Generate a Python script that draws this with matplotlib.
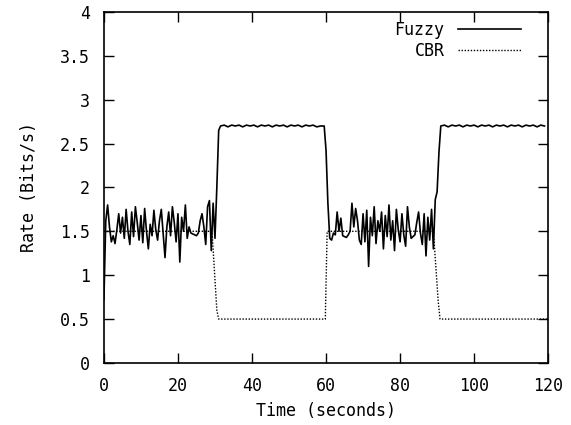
import numpy as np
import matplotlib
matplotlib.use("Agg")
import matplotlib.pyplot as plt

plt.rcParams['font.family'] = ['DejaVu Sans Mono']

# Fuzzy rate, noisy part 0..29.5 s (0.5 s steps)
fuzzy_a = [0.72, 1.62, 1.80, 1.55, 1.38, 1.45, 1.36, 1.52, 1.70, 1.48,
           1.66, 1.42, 1.75, 1.50, 1.35, 1.72, 1.44, 1.78, 1.60, 1.40,
           1.68, 1.37, 1.76, 1.50, 1.30, 1.58, 1.45, 1.74, 1.52, 1.40,
           1.62, 1.75, 1.48, 1.20, 1.55, 1.72, 1.45, 1.78, 1.60, 1.38,
           1.70, 1.15, 1.66, 1.50, 1.80, 1.42, 1.55, 1.48, 1.47, 1.46,
           1.45, 1.48, 1.62, 1.70, 1.55, 1.35, 1.78, 1.85, 1.28, 1.82]
# noisy part 61..89.5 s
fuzzy_b = [1.42, 1.40, 1.48, 1.46, 1.72, 1.50, 1.65, 1.45, 1.44, 1.43,
           1.46, 1.50, 1.82, 1.55, 1.76, 1.62, 1.40, 1.35, 1.70, 1.38,
           1.74, 1.10, 1.66, 1.45, 1.78, 1.36, 1.62, 1.50, 1.72, 1.30,
           1.68, 1.44, 1.80, 1.40, 1.62, 1.28, 1.75, 1.52, 1.38, 1.70,
           1.46, 1.33, 1.78, 1.55, 1.42, 1.44, 1.46, 1.60, 1.72, 1.48,
           1.35, 1.70, 1.22, 1.66, 1.40, 1.75, 1.30, 1.86]
# high plateaus (1 s steps), with the small ripple
plateau1 = [2.70, 2.71, 2.69, 2.71, 2.70, 2.71, 2.69, 2.71, 2.70, 2.71,
            2.69, 2.71, 2.70, 2.71, 2.69, 2.71, 2.70, 2.71, 2.69, 2.71,
            2.70, 2.71, 2.69, 2.71, 2.70, 2.71, 2.69, 2.70]
plateau2 = [2.70, 2.71, 2.69, 2.71, 2.70, 2.71, 2.69, 2.71, 2.70, 2.71,
            2.69, 2.71, 2.70, 2.71, 2.69, 2.71, 2.70, 2.71, 2.69, 2.71,
            2.70, 2.71, 2.69, 2.71, 2.70, 2.71, 2.69, 2.71, 2.70]
rise1_t = [30, 30.5, 31]
rise1 = [1.42, 2.0, 2.65]
fall_t = [59.5, 60, 60.5]
fall = [2.7, 2.42, 1.82]
rise2_t = [90, 90.5]
rise2 = [1.95, 2.4]

# CBR rate
cbr_t = [0, 29.2, 30.5, 31, 59.8, 60.3, 89, 90.3, 90.8, 120]
cbr = [1.5, 1.5, 0.6, 0.5, 0.5, 1.5, 1.5, 0.7, 0.5, 0.5]

t_a = np.arange(len(fuzzy_a)) * 0.5
t_p1 = 31.5 + np.arange(len(plateau1))
t_b = 61 + np.arange(len(fuzzy_b)) * 0.5
t_p2 = 91 + np.arange(len(plateau2))
fuzzy_t = np.concatenate([t_a, rise1_t, t_p1, fall_t, t_b, rise2_t, t_p2])
fuzzy = np.concatenate([fuzzy_a, rise1, plateau1, fall, fuzzy_b, rise2, plateau2])

fig = plt.figure(figsize=(5.71, 4.25), dpi=100)
ax = fig.add_axes([0.182, 0.146, 0.778, 0.826])
ax.plot(fuzzy_t, fuzzy, color='black', lw=1.2, label='Fuzzy')
ax.plot(cbr_t, cbr, color='black', lw=1.0, linestyle=(0, (1, 1.2)), label='CBR')

ax.set_xlim(0, 120)
ax.set_ylim(0, 4)
ax.set_xticks([0, 20, 40, 60, 80, 100, 120])
ax.set_yticks([0, 0.5, 1, 1.5, 2, 2.5, 3, 3.5, 4])
ax.set_yticklabels(['0', '0.5', '1', '1.5', '2', '2.5', '3', '3.5', '4'])
ax.tick_params(direction='in', top=True, right=True, length=7, width=1,
               labelsize=12, pad=10)
for s in ax.spines.values():
    s.set_linewidth(1.2)

ax.set_xlabel('Time (seconds)', fontsize=12, labelpad=5)
ax.set_ylabel('Rate (Bits/s)', fontsize=12, labelpad=16)

ax.legend(loc='upper right', bbox_to_anchor=(0.954, 0.994), frameon=False,
          markerfirst=False, fontsize=12, handlelength=3.8, handletextpad=0.8,
          borderaxespad=0, labelspacing=0.17)

fig.savefig('out.png', dpi=100)
